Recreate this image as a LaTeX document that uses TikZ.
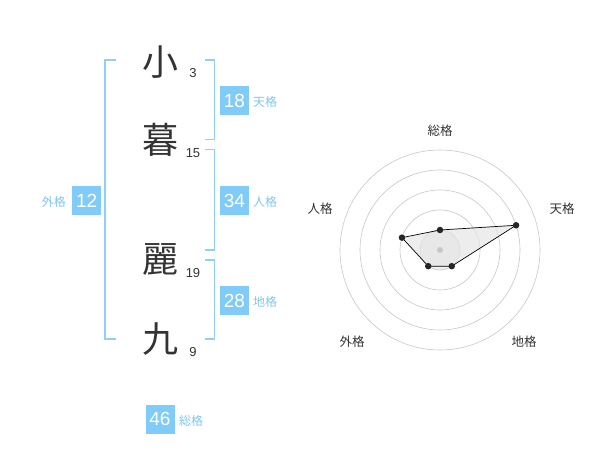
\documentclass[tikz,border=0pt]{standalone}
\usepackage{fontspec}
\usetikzlibrary{calc}
\setmainfont{Liberation Sans}
\newfontfamily\cjk{Noto Sans CJK JP}
\definecolor{boxblue}{HTML}{80CBF8}
\definecolor{brblue}{HTML}{8ED0F8}
\definecolor{lblblue}{HTML}{7FC6F0}
\definecolor{txtdark}{HTML}{333333}
\begin{document}
\begin{tikzpicture}[x=1pt,y=-1pt,
  kanji/.style={font=\cjk\fontsize{36}{36}\selectfont, text=txtdark, inner sep=0pt},
  stroke/.style={font=\fontsize{13}{13}\selectfont, text=txtdark, inner sep=0pt},
  valbox/.style={fill=boxblue, text=white, minimum width=29pt, minimum height=29pt, inner sep=0pt, font=\fontsize{19}{19}\selectfont},
  kaku/.style={font=\cjk\fontsize{12}{12}\selectfont, text=lblblue, inner sep=0pt},
  br/.style={draw=brblue, line width=1.8pt},
  ring/.style={draw=black!22, line width=0.6pt},
  rlabel/.style={font=\cjk\fontsize{12.5}{12.5}\selectfont, text=txtdark, inner sep=0pt},
  dot/.style={circle, fill=black!85, inner sep=0pt, minimum size=6.5pt}
]
\useasboundingbox (0,0) rectangle (600,470);

% characters
\node[kanji] (k1) at (160,62) {小};
\node[kanji] (k2) at (160,140) {暮};
\node[kanji] (k3) at (160,260) {麗};
\node[kanji] (k4) at (160,339) {九};
\node[stroke] (s1) at (193,73) {3};
\node[stroke] (s2) at (193,153) {15};
\node[stroke] (s3) at (193,273) {19};
\node[stroke] (s4) at (193,352) {9};

% brackets
\coordinate (la) at (116,60); \coordinate (lb) at (116,339);
\draw[br] (la) -- (105,60) -- (105,339) -- (lb);
\coordinate (ta) at (205,60); \coordinate (tb) at (205,139.5);
\draw[br] (ta) -- (214.5,60) -- (214.5,139.5) -- (tb);
\coordinate (ja) at (205,149.5); \coordinate (jb) at (205,250);
\draw[br] (ja) -- (214.5,149.5) -- (214.5,250) -- (jb);
\coordinate (ca) at (205,260); \coordinate (cb) at (205,339);
\draw[br] (ca) -- (214.5,260) -- (214.5,339) -- (cb);

% value boxes
\node[valbox] (b18) at (234.5,100.5) {18};
\node[kaku, anchor=west] (l18) at (253,102) {天格};
\node[valbox] (b34) at (234.5,200.5) {34};
\node[kaku, anchor=west] (l34) at (253,202) {人格};
\node[valbox] (b28) at (234.5,300.5) {28};
\node[kaku, anchor=west] (l28) at (253,302) {地格};
\node[valbox] (b12) at (86.7,200.5) {12};
\node[kaku, anchor=east] (l12) at (66,202) {外格};
\node[valbox] (b46) at (160,419) {46};
\node[kaku, anchor=west] (l46) at (179,421) {総格};

% radar
\coordinate (c) at (440,250);
\fill[black!6] (c) circle (20);
\foreach \r in {20,40,60,80,100} \draw[ring] (c) circle (\r);
\coordinate (p1) at ($(c)+(-90:20)$);
\coordinate (p2) at ($(c)+(-18:80)$);
\coordinate (p3) at ($(c)+(54:20)$);
\coordinate (p4) at ($(c)+(126:20)$);
\coordinate (p5) at ($(c)+(-162:40)$);
\fill[black!10, opacity=0.7] (p1) -- (p2) -- (p3) -- (p4) -- (p5) -- cycle;
\draw[black, line width=0.7pt] (p1) -- (p2) -- (p3) -- (p4) -- (p5) -- cycle;
\node[circle, fill=black!22, inner sep=0pt, minimum size=6pt] (cd) at (c) {};
\foreach \p in {p1,p2,p3,p4,p5} \node[dot] at (\p) {};
\node[rlabel] (r1) at (440,131) {総格};
\node[rlabel] (r2) at (562,209) {天格};
\node[rlabel] (r3) at (320,209) {人格};
\node[rlabel] (r4) at (352,342) {外格};
\node[rlabel] (r5) at (524,342) {地格};
\end{tikzpicture}
\end{document}
